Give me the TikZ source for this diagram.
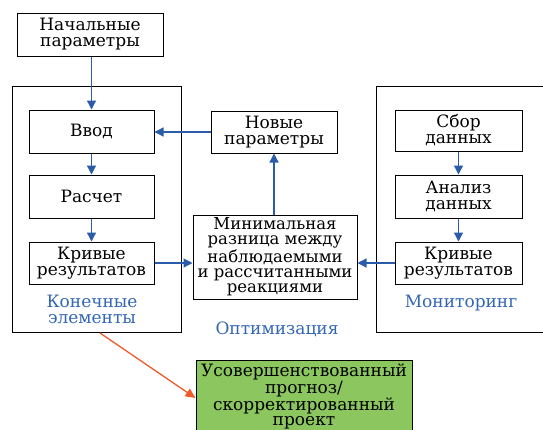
\documentclass[tikz,border=0pt]{standalone}
\usepackage{fontspec}
\setmainfont{DejaVu Serif}
\usetikzlibrary{arrows.meta}
\definecolor{arrblue}{HTML}{2A5CAA}
\definecolor{lblblue}{HTML}{3366B3}
\definecolor{orng}{HTML}{F05A28}
\definecolor{grn}{HTML}{8CC65F}
\begin{document}
\begin{tikzpicture}[x=1pt,y=-1pt,
  box/.style={draw=black, line width=1pt, inner sep=0pt, align=center,
    font=\rmfamily\fontsize{17}{16}\selectfont},
  big/.style={draw=black, line width=1pt},
  arr/.style={draw=arrblue, line width=1.3pt, -{Triangle[length=9pt,width=9pt]}},
  lbl/.style={text=lblblue, align=center, font=\rmfamily\fontsize{17}{16}\selectfont}]
\useasboundingbox (0,0) rectangle (543,429);
% big frames
\draw[big] (12,86) rectangle (181,332);
\draw[big] (376,86) rectangle (543,332);
% boxes
\node[box, minimum width=146pt, minimum height=43pt] (np) at (90,34.5) {Начальные\\параметры};
\node[box, minimum width=125pt, minimum height=43pt] (vvod) at (91.5,131.5) {Ввод};
\node[box, minimum width=125pt, minimum height=43pt] (rasch) at (91.5,196.5) {Расчет};
\node[box, minimum width=125pt, minimum height=42pt] (kr1) at (91.5,263) {Кривые\\результатов};
\node[lbl] (ke) at (92,309) {Конечные\\элементы};
\node[box, minimum width=126pt, minimum height=42pt] (nov) at (274,132) {Новые\\параметры};
\node[box, minimum width=164pt, minimum height=84pt, font=\rmfamily\fontsize{16.5}{15.3}\selectfont] (min) at (275,257) {Минимальная\\разница между\\наблюдаемыми\\и рассчитанными\\реакциями};
\node[lbl] (opt) at (277,329) {Оптимизация};
\node[box, minimum width=127pt, minimum height=41pt] (sbor) at (458.5,130.5) {Сбор\\данных};
\node[box, minimum width=127pt, minimum height=43pt] (anal) at (458.5,196.5) {Анализ\\данных};
\node[box, minimum width=127pt, minimum height=42pt] (kr2) at (458.5,263) {Кривые\\результатов};
\node[lbl] (mon) at (461,303) {Мониторинг};
\node[box, fill=grn, minimum width=216pt, minimum height=72pt, anchor=north, font=\rmfamily\fontsize{17}{15.5}\selectfont] (res) at (304,360) {Усовершенствованный\\прогноз/\\скорректированный\\проект};
% arrows
\draw[arr] (np.south -| vvod) -- (vvod.north);
\draw[arr] (vvod) -- (rasch);
\draw[arr] (rasch) -- (kr1);
\draw[arr] (kr1.east) -- (kr1.east -| min.west);
\draw[arr] (kr2.west) -- (kr2.west -| min.east);
\draw[arr] (min.north -| nov) -- (nov.south);
\draw[arr] (nov.west) -- (nov.west -| vvod.east);
\draw[arr] (sbor) -- (anal);
\draw[arr] (anal) -- (kr2);
\coordinate (os) at (100,333);
\draw[draw=orng, line width=1.3pt, -{Triangle[length=10pt,width=9pt]}] (os) -- (res.west |- 0,398);
\end{tikzpicture}
\end{document}
